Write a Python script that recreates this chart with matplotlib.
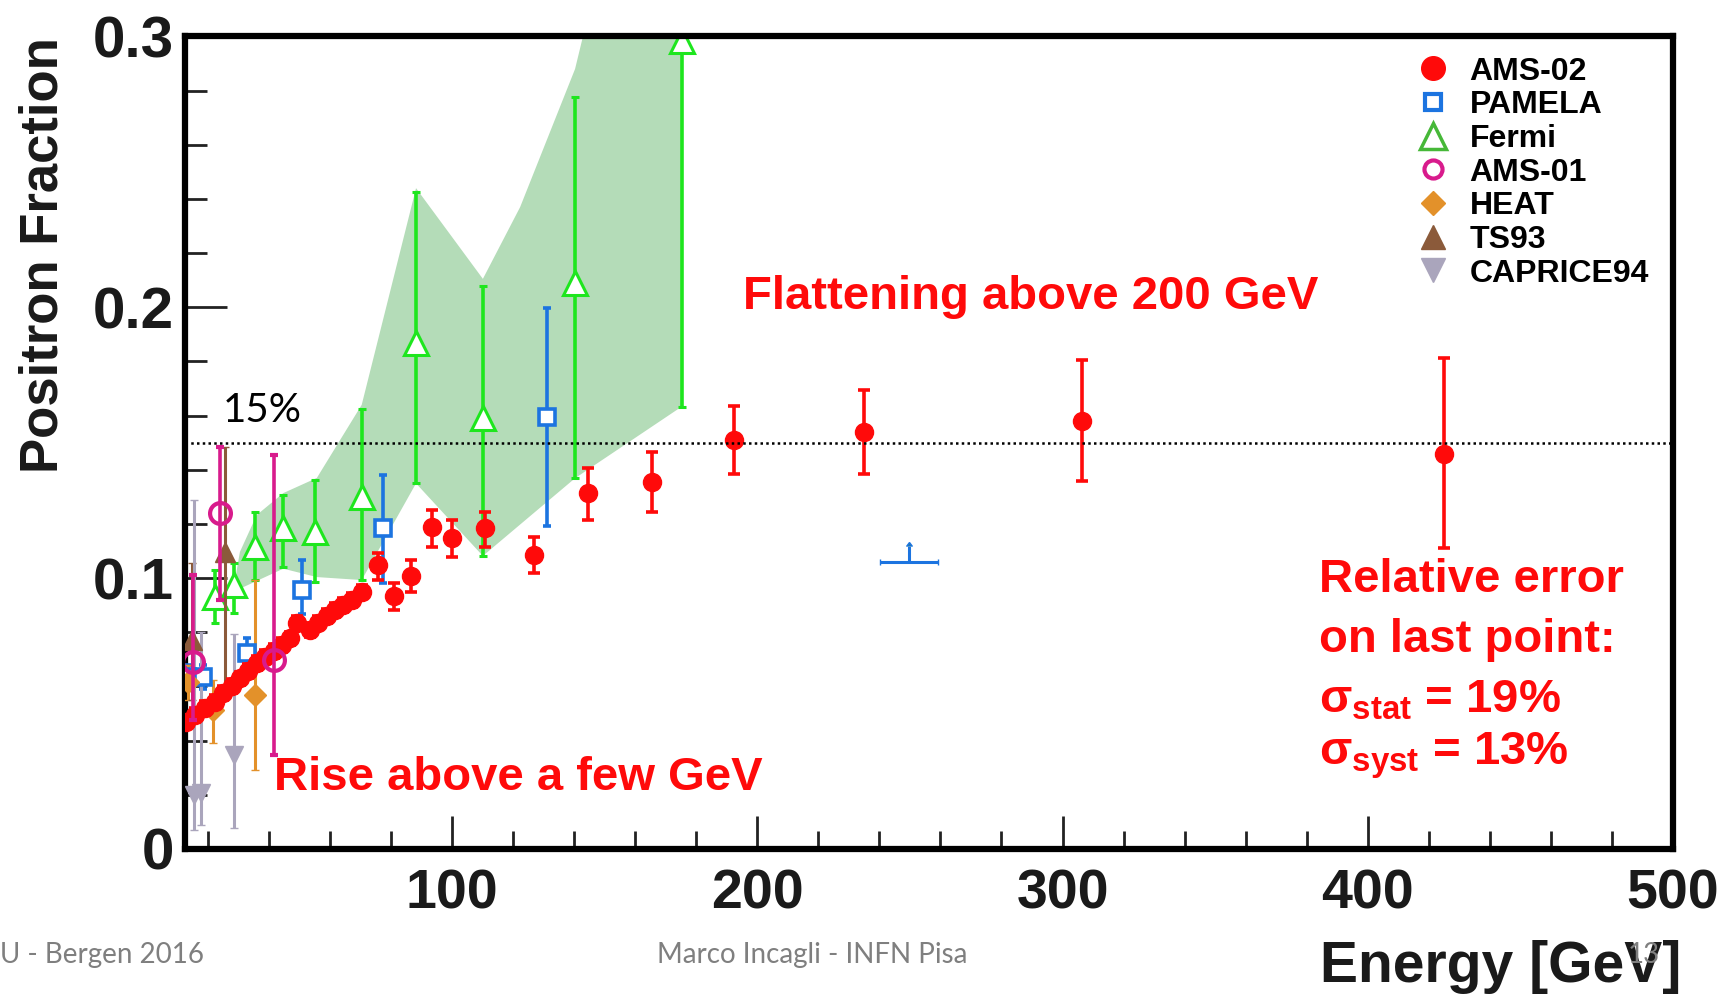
import numpy as np
import matplotlib
matplotlib.use("Agg")
import matplotlib.pyplot as plt
from matplotlib.lines import Line2D

# --- data -------------------------------------------------------------
# AMS-02 positron fraction
ams02_e = [12.8, 15.8, 19.1, 22.4, 25.1, 27.8, 30.5, 33.3, 36.0, 38.7, 41.5, 44.2,
           46.9, 49.3, 53.5, 56.2, 59.0, 61.7, 64.4, 67.1, 70.4,
           75.9, 81.0, 86.6, 93.4, 99.9, 110.8, 127.0, 144.7, 165.6, 192.3,
           235.0, 306.5, 424.9]
ams02_f = [0.0470, 0.0495, 0.0520, 0.0544, 0.0575, 0.0602, 0.0630, 0.0658, 0.0686,
           0.0710, 0.0732, 0.0753, 0.0778, 0.0836, 0.0809, 0.0836, 0.0860, 0.0883,
           0.0901, 0.0920, 0.0950,
           0.1049, 0.0934, 0.1008, 0.1190, 0.1147, 0.1186, 0.1086, 0.1314, 0.1356,
           0.1510, 0.1541, 0.1582, 0.1459]
ams02_lo = [0.0025] * 21 + [0.0055, 0.0051, 0.0058, 0.0074, 0.0068, 0.0070, 0.0068,
                             0.0099, 0.0110, 0.0126, 0.0156, 0.0223, 0.0349]
ams02_hi = [0.0025] * 21 + [0.0043, 0.0049, 0.0059, 0.0062, 0.0068, 0.0060, 0.0067,
                             0.0092, 0.0111, 0.0126, 0.0154, 0.0222, 0.0353]

# PAMELA
pam_e = [13.1, 18.5, 32.9, 50.8, 77.5, 131.0]
pam_f = [0.0636, 0.0636, 0.0723, 0.0956, 0.1184, 0.1596]
pam_lo = [0.0590, 0.0590, 0.0673, 0.0866, 0.0981, 0.1193]
pam_hi = [0.0680, 0.0680, 0.0778, 0.1067, 0.1381, 0.1997]
pam_lim_e, pam_lim_f, pam_lim_de = 249.8, 0.1059, 9.5

# Fermi
fermi_e = [22.4, 28.6, 35.5, 44.7, 55.1, 70.4, 88.2, 110.1, 140.3, 175.2]
fermi_f = [0.0932, 0.0975, 0.1116, 0.1184, 0.1172, 0.1301, 0.1867, 0.1590, 0.2089, 0.2985]
fermi_lo = [0.0833, 0.0870, 0.0993, 0.1042, 0.0987, 0.0993, 0.1350, 0.1082, 0.1369, 0.1633]
fermi_hi = [0.1030, 0.1055, 0.1246, 0.1307, 0.1363, 0.1624, 0.2425, 0.2078, 0.2777, 0.3600]

# Fermi systematic band (upper and lower edges)
band_up_e = [29.0, 30.5, 36.0, 44.7, 55.7, 70.4, 88.2, 110.1, 122.3, 140.3, 175.2]
band_up = [0.1000, 0.1097, 0.1233, 0.1314, 0.1370, 0.1640, 0.2440, 0.2105, 0.2370, 0.2880, 0.4500]
band_lo_e = [29.0, 30.5, 44.7, 55.7, 70.4, 88.2, 110.1, 140.3, 175.2]
band_lo = [0.0930, 0.0961, 0.1035, 0.1004, 0.0993, 0.1350, 0.1082, 0.1369, 0.1633]

# AMS-01
ams01_e = [15.2, 24.0, 41.5]
ams01_f = [0.0692, 0.1240, 0.0698]
ams01_lo = [0.0476, 0.0919, 0.0347]
ams01_hi = [0.1012, 0.1486, 0.1455]

# HEAT
heat_e = [13.6, 21.8, 35.5]
heat_f = [0.0618, 0.0513, 0.0569]
heat_lo = [0.0550, 0.0390, 0.0292]
heat_hi = [0.0680, 0.0624, 0.0993]

# TS93
ts93_e = [14.7, 25.6]
ts93_f = [0.0772, 0.1098]
ts93_lo = [0.0550, 0.0587]
ts93_hi = [0.1055, 0.1486]

# CAPRICE94
cap_e = [15.3, 17.6, 28.4]
cap_f = [0.0200, 0.0206, 0.0347]
cap_lo = [0.0070, 0.0090, 0.0077]
cap_hi = [0.1289, 0.0800, 0.0794]

x_ticks = [100, 200, 300, 400, 500]
y_ticks = [0, 0.1, 0.2, 0.3]
y_ticklabels = ["0", "0.1", "0.2", "0.3"]

# --- colours ----------------------------------------------------------
RED = "#ff0a0a"
BLUE = "#1c74e0"
GREEN = "#1ee61e"
GREEN_LEG = "#46b838"
BAND = "#b4dcb8"
MAGENTA = "#d81b8c"
ORANGE = "#e3912a"
BROWN = "#8b5a3a"
GREY = "#aaa5bc"

plt.rcParams["font.family"] = ["Liberation Sans", "DejaVu Sans"]

fig = plt.figure(figsize=(17.24, 10.02), dpi=100)
ax = fig.add_axes([0.1073, 0.1527, 0.8631, 0.8109])


def asym(f, lo, hi):
    f = np.asarray(f)
    return [f - np.asarray(lo), np.asarray(hi) - f]


# Fermi band
poly_x = np.concatenate([band_up_e, band_lo_e[::-1]])
poly_y = np.concatenate([band_up, band_lo[::-1]])
ax.fill(poly_x, poly_y, color=BAND, lw=0, zorder=1)

# Fermi
ax.errorbar(fermi_e, fermi_f, yerr=asym(fermi_f, fermi_lo, fermi_hi), fmt="^",
            color=GREEN, mfc="white", mec=GREEN, ms=17, mew=2.2, elinewidth=2.6,
            capsize=3, capthick=2.6, zorder=2)

# PAMELA
ax.errorbar(pam_e, pam_f, yerr=asym(pam_f, pam_lo, pam_hi),
            fmt="s", color=BLUE, mfc="white", mec=BLUE, ms=12, mew=2.6, elinewidth=2.6,
            capsize=3, capthick=2.6, zorder=3)
ax.errorbar(pam_lim_e, pam_lim_f, xerr=pam_lim_de, yerr=0.006, lolims=True,
            fmt="none", ecolor=BLUE, elinewidth=2.2, capsize=2, zorder=3)

# HEAT, TS93, CAPRICE94
ax.errorbar(heat_e, heat_f, yerr=asym(heat_f, heat_lo, heat_hi), fmt="D", color=ORANGE,
            ms=11, elinewidth=2.2, capsize=3, zorder=3)
ax.errorbar(ts93_e, ts93_f, yerr=asym(ts93_f, ts93_lo, ts93_hi), fmt="^", color=BROWN,
            ms=15, elinewidth=2.2, capsize=3, zorder=3)
ax.errorbar(cap_e, cap_f, yerr=asym(cap_f, cap_lo, cap_hi), fmt="v", color=GREY,
            ms=13, elinewidth=2.2, capsize=3, zorder=3)

# AMS-02
ax.errorbar(ams02_e, ams02_f, yerr=[ams02_lo, ams02_hi], fmt="o", color=RED,
            ms=13, elinewidth=2.6, capsize=4, capthick=2.6, zorder=4)

# AMS-01
ax.errorbar(ams01_e, ams01_f, yerr=asym(ams01_f, ams01_lo, ams01_hi), fmt="o",
            color=MAGENTA, mfc="none", mec=MAGENTA, ms=15, mew=3, elinewidth=2.6,
            capsize=3, zorder=5)

# 15% reference line
ax.axhline(0.15, color="black", lw=1.8, ls=(0, (1, 1.3)), zorder=6)

ax.set_xlim(12.5, 500)
ax.set_ylim(0, 0.3)

for side in ["left", "right", "top", "bottom"]:
    ax.spines[side].set_linewidth(4.5)
    ax.spines[side].set_color("black")

ax.set_xticks(x_ticks)
ax.set_xticks(np.arange(20, 500, 20), minor=True)
ax.set_yticks(y_ticks)
ax.set_yticklabels(y_ticklabels)
ax.set_yticks(np.arange(0.02, 0.3, 0.02), minor=True)
ax.tick_params(axis="y", which="major", direction="in", length=30, width=2, color="#222222",
               pad=8)
ax.tick_params(axis="y", which="minor", direction="in", length=16, width=2, color="#222222")
ax.tick_params(axis="x", which="major", direction="in", length=24, width=2, color="#222222",
               pad=14)
ax.tick_params(axis="x", which="minor", direction="in", length=13, width=2, color="#222222")
for lab in ax.get_yticklabels():
    lab.set_fontweight("bold")
    lab.set_fontsize(42)
    lab.set_color("#1a1a1a")
for lab in ax.get_xticklabels():
    lab.set_fontweight("bold")
    lab.set_fontsize(40)
    lab.set_color("#1a1a1a")

ax.set_ylabel("Positron Fraction", fontweight="bold", fontsize=38, color="#1a1a1a",
              va="center")
ax.yaxis.set_label_coords(-0.095, 0.731)
ax.set_xlabel("Energy [GeV]", fontweight="bold", fontsize=41, color="#1a1a1a",
              va="center")
ax.xaxis.set_label_coords(0.884, -0.145)

# legend
handles = [
    Line2D([], [], ls="none", marker="o", color=RED, ms=17),
    Line2D([], [], ls="none", marker="s", mfc="white", mec=BLUE, ms=12, mew=3),
    Line2D([], [], ls="none", marker="^", mfc="white", mec=GREEN_LEG, ms=19, mew=2.5),
    Line2D([], [], ls="none", marker="o", mfc="white", mec=MAGENTA, ms=13, mew=3),
    Line2D([], [], ls="none", marker="D", color=ORANGE, ms=12),
    Line2D([], [], ls="none", marker="^", color=BROWN, ms=17),
    Line2D([], [], ls="none", marker="v", color=GREY, ms=17),
]
labels = ["AMS-02", "PAMELA", "Fermi", "AMS-01", "HEAT", "TS93", "CAPRICE94"]
leg = ax.legend(handles, labels, loc="upper left", bbox_to_anchor=(0.815, 0.995),
                frameon=False, prop={"weight": "bold", "size": 23},
                handlelength=1.2, handletextpad=0.55, labelspacing=0.115, borderpad=0)

# annotations
ax.text(25, 0.162, "15%", family="Lato", fontsize=29, color="black", va="center")
ax.text(195.3, 0.2038, "Flattening above 200 GeV", fontsize=34, fontweight="bold",
        color=RED, va="center")
ax.text(41.7, 0.0262, "Rise above a few GeV", fontsize=34, fontweight="bold",
        color=RED, va="center")
ax.text(384, 0.0993, "Relative error", fontsize=34, fontweight="bold", color=RED,
        va="center")
ax.text(384, 0.0772, "on last point:", fontsize=34, fontweight="bold", color=RED,
        va="center")
ax.text(384, 0.055, r"$\mathregular{\sigma_{stat}}$ = 19%", fontsize=34,
        fontweight="bold", color=RED, va="center")
ax.text(384, 0.0343, r"$\mathregular{\sigma_{syst}}$ = 13%", fontsize=34,
        fontweight="bold", color=RED, va="center")

# slide footer
fig.text(0.0, 0.047, "U - Bergen 2016", family="Lato", fontsize=20, color="#7f7f7f",
         va="center")
fig.text(0.471, 0.047, "Marco Incagli - INFN Pisa", family="Lato", fontsize=20,
         color="#7f7f7f", va="center", ha="center")
fig.text(0.944, 0.047, "13", family="Lato", fontsize=20, color="#7f7f7f", va="center")

fig.savefig("out.png", dpi=100)
